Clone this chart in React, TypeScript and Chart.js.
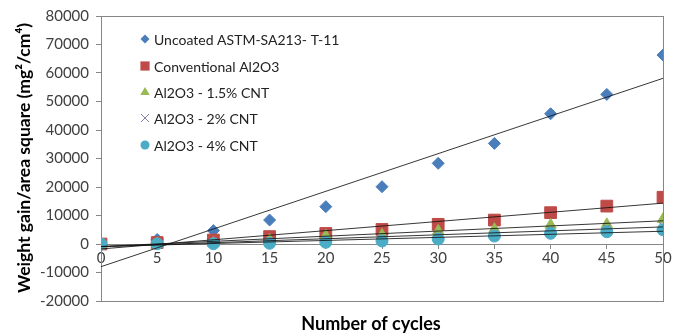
import React, { useEffect, useRef } from 'react';
import { Chart, registerables } from 'chart.js';

Chart.register(...registerables);

const cycles = [0, 5, 10, 15, 20, 25, 30, 35, 40, 45, 50];
const uncoated = [0, 1600, 4700, 8400, 13100, 20100, 28300, 35300, 45700, 52500, 66300];
const conventional = [0, 500, 1400, 2600, 3700, 5100, 6900, 8400, 11000, 13300, 16400];
const cnt15 = [0, 100, 300, 1400, 2900, 3200, 4600, 5200, 6700, 6900, 8700];
const cnt2 = [0, 100, 200, 600, 1300, 2000, 3000, 3800, 5000, 5600, 6300];
const cnt4 = [0, 50, 100, 250, 600, 1050, 1750, 2800, 3750, 4300, 5000];

const seriesNames = [
  'Uncoated ASTM-SA213- T-11',
  'Conventional Al2O3',
  'Al2O3 - 1.5% CNT',
  'Al2O3 - 2% CNT',
  'Al2O3 - 4% CNT',
];
const seriesColors = ['#4A7EBB', '#BE4B48', '#98B954', '#8C7BAE', '#4BACC6'];
const seriesStyles = ['rectRot', 'rect', 'triangle', 'crossRot', 'circle'];
const seriesRadius = [6, 8.3, 6.5, 5, 6];
const seriesValues = [uncoated, conventional, cnt15, cnt2, cnt4];

const xTitle = 'Number of cycles';
const yTitle = 'Weight gain/area square (mg²/cm⁴)';
const yMin = -20000;
const yMax = 80000;
const yStep = 10000;
const xMin = 0;
const xMax = 50;
const xStep = 5;

function linearFit(xs: number[], ys: number[]) {
  const n = xs.length;
  const mx = xs.reduce((a, b) => a + b, 0) / n;
  const my = ys.reduce((a, b) => a + b, 0) / n;
  let sxy = 0;
  let sxx = 0;
  for (let i = 0; i < n; i++) {
    sxy += (xs[i] - mx) * (ys[i] - my);
    sxx += (xs[i] - mx) * (xs[i] - mx);
  }
  const b = sxy / sxx;
  const a = my - b * mx;
  return [
    { x: xs[0], y: a + b * xs[0] },
    { x: xs[n - 1], y: a + b * xs[n - 1] },
  ];
}

function drawMarker(ctx: CanvasRenderingContext2D, style: string, x: number, y: number, r: number, color: string) {
  ctx.save();
  ctx.fillStyle = color;
  ctx.strokeStyle = color;
  ctx.lineWidth = 1;
  ctx.beginPath();
  if (style === 'rectRot') {
    ctx.moveTo(x, y - r);
    ctx.lineTo(x + r, y);
    ctx.lineTo(x, y + r);
    ctx.lineTo(x - r, y);
    ctx.closePath();
    ctx.fill();
  } else if (style === 'rect') {
    const s = r * Math.SQRT1_2;
    ctx.rect(x - s, y - s, 2 * s, 2 * s);
    ctx.fill();
  } else if (style === 'triangle') {
    ctx.moveTo(x, y - r);
    ctx.lineTo(x + r * 0.95, y + r * 0.6);
    ctx.lineTo(x - r * 0.95, y + r * 0.6);
    ctx.closePath();
    ctx.fill();
  } else if (style === 'crossRot') {
    ctx.moveTo(x - r, y - r);
    ctx.lineTo(x + r, y + r);
    ctx.moveTo(x + r, y - r);
    ctx.lineTo(x - r, y + r);
    ctx.stroke();
  } else {
    ctx.arc(x, y, r, 0, Math.PI * 2);
    ctx.fill();
  }
  ctx.restore();
}

const decorPlugin = {
  id: 'decor',
  beforeDatasetsDraw(chart: any) {
    const { ctx, chartArea } = chart;
    ctx.save();
    ctx.strokeStyle = '#868686';
    ctx.lineWidth = 1;
    ctx.strokeRect(
      Math.round(chartArea.left) + 0.5,
      Math.round(chartArea.top) + 0.5,
      Math.round(chartArea.right - chartArea.left),
      Math.round(chartArea.bottom - chartArea.top)
    );
    ctx.restore();
  },
  afterDraw(chart: any) {
    const { ctx } = chart;
    ctx.save();
    const legendY = [39, 66, 92, 118, 145];
    const legendR = [4.5, 6.5, 5, 4, 4.5];
    ctx.font = '14px Lato';
    ctx.textBaseline = 'middle';
    ctx.textAlign = 'left';
    for (let i = 0; i < seriesNames.length; i++) {
      drawMarker(ctx, seriesStyles[i], 145, legendY[i], legendR[i], seriesColors[i]);
      ctx.fillStyle = '#222222';
      ctx.fillText(seriesNames[i], 154, legendY[i] + 1);
    }
    ctx.fillStyle = '#000000';
    ctx.font = 'bold 18px Lato';
    ctx.textAlign = 'center';
    ctx.textBaseline = 'middle';
    ctx.fillText(xTitle, 371, 324);
    ctx.font = 'bold 17.5px Lato';
    ctx.translate(24, 158);
    ctx.rotate(-Math.PI / 2);
    ctx.fillText(yTitle, 0, 0);
    ctx.restore();
  },
};

export default function App() {
  const canvasRef = useRef<HTMLCanvasElement | null>(null);

  useEffect(() => {
    const canvas = canvasRef.current;
    if (!canvas) return;
    const pointSets = seriesValues.map((vals) => cycles.map((c, i) => ({ x: c, y: vals[i] })));
    const scatterSets = seriesValues.map((vals, i) => ({
      type: 'scatter' as const,
      label: seriesNames[i],
      data: pointSets[i],
      showLine: false,
      pointStyle: seriesStyles[i] as any,
      pointRadius: seriesRadius[i],
      pointBackgroundColor: seriesColors[i],
      pointBorderColor: seriesColors[i],
      pointBorderWidth: seriesStyles[i] === 'crossRot' ? 1.2 : 1,
      order: 4 - i,
    }));
    const trendSets = seriesValues.map((vals, i) => ({
      type: 'line' as const,
      label: 'trend ' + seriesNames[i],
      data: linearFit(cycles, vals),
      borderColor: 'rgba(20,20,20,0.85)',
      borderWidth: 1,
      pointRadius: 0,
      fill: false,
      order: -1,
    }));
    const chart = new Chart(canvas, {
      type: 'scatter',
      data: { datasets: [...scatterSets, ...trendSets] as any },
      options: {
        animation: false,
        responsive: true,
        maintainAspectRatio: false,
        layout: { padding: { left: 0, top: 16, right: 15, bottom: 32 } },
        plugins: {
          legend: { display: false },
          tooltip: { enabled: false },
          title: { display: false },
        },
        scales: {
          x: {
            type: 'linear',
            position: { y: 0 } as any,
            min: xMin,
            max: xMax,
            grid: { display: true, drawOnChartArea: false, tickLength: 4, color: '#868686' },
            border: { display: true, color: '#868686' },
            ticks: {
              stepSize: xStep,
              padding: 1,
              color: '#404040',
              font: { family: 'Lato', size: 15 },
              maxRotation: 0,
              callback: (v: any) => String(v),
            },
          },
          y: {
            type: 'linear',
            min: yMin,
            max: yMax,
            grid: { display: true, drawOnChartArea: false, tickLength: 5, color: '#868686' },
            border: { display: true, color: '#868686' },
            ticks: {
              stepSize: yStep,
              padding: 7,
              color: '#404040',
              font: { family: 'Lato', size: 15 },
              callback: (v: any) => String(v),
            },
            afterFit: (scale: any) => {
              scale.width = 101;
            },
          },
        },
      },
      plugins: [decorPlugin],
    });
    return () => chart.destroy();
  }, []);

  return (
    <div style={{ position: 'fixed', left: 0, top: 0, width: 678, height: 333, background: '#ffffff' }}>
      <canvas ref={canvasRef} />
    </div>
  );
}
